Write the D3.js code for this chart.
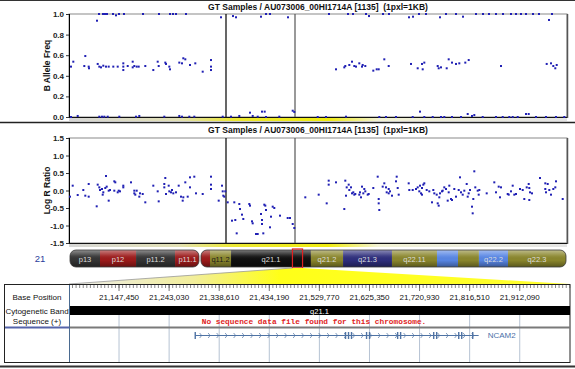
<!DOCTYPE html>
<html>
<head>
<meta charset="utf-8">
<script src="https://cdn.jsdelivr.net/npm/d3@7"></script>
<style>
  body { margin: 0; background: #fff; }
  svg { display: block; font-family: "Liberation Sans", Arial, sans-serif; }
</style>
</head>
<body>
<svg id="chart" width="575" height="369"></svg>
<script>
// ---- data ----
const panelTitle = 'GT Samples / AU073006_00HI1714A [1135]  (1pxl=1KB)';
const windowKb = 498;               // 1 px = 1 kb
const markerKb = [157, 226];        // vertical marker lines in both panels

// B allele frequency: [kb, value]
const bafPoints = [
  [28,0.935],[30,1],[34,1],[36,1],[38,1],[44,1],[47,0.987],[50,1],[55,1],[74,1],[90,1],[101,1],[104,1],[107,1],[117,1],
  [152,0.968],[164,0.98],[167,0.968],[192,0.974],[197,1],[201,1],[219,0.968],
  [260,1],[279,1],[284,1],[297,1],[300,0.98],[314,1],[320,1],[340,0.968],[344,0.974],[350,1],[357,1],[371,0.968],
  [377,1],[387,1],[394,0.974],[407,1],[414,1],[420,1],[427,1],[434,1],[442,1],[447,1],[452,1],[457,1],[464,1],
  [470,1],[480,0.942],[483,1],
  [2,0.489],[4.3,0.537],[16.3,0.592],[15.3,0.495],[19.7,0.489],[20,0.473],[28.7,0.515],[30.3,0.489],[32,0.482],
  [34.3,0.498],[37,0.489],[39.7,0.489],[44.3,0.489],[48.7,0.489],[54.3,0.521],[54.3,0.489],[54.3,0.456],[58.7,0.495],
  [63.7,0.537],[63.7,0.482],[65.3,0.495],[67.7,0.489],[69.7,0.489],[76.3,0.495],[84.3,0.456],[88.7,0.537],[89.7,0.495],
  [96.3,0.528],[97,0.515],[100.3,0.489],[101,0.463],[110.3,0.528],[113,0.521],[114.3,0.57],[116.3,0.56],[121,0.505],
  [126.3,0.521],[133.7,0.44],[142,0.553],[142,0.489],[142,0.456],
  [267,0.463],[275.3,0.482],[276.3,0.495],[280.3,0.505],[283,0.537],[285.3,0.495],[287,0.489],[290.3,0.521],[293,0.489],
  [293.7,0.505],[296.3,0.495],[304.3,0.45],[307.7,0.463],[309.7,0.463],[315.3,0.56],[319.7,0.495],[342,0.515],[348.7,0.473],
  [353,0.515],[353.7,0.463],[355.3,0.528],[368.7,0.495],[369.7,0.473],[372,0.482],[377.7,0.473],[379.7,0.56],[383,0.528],
  [387,0.515],[390.3,0.521],[396.3,0.528],[399.7,0.553],[432,0.495],[477.7,0.515],[482,0.521],[484.3,0.495],[486.3,0.473],
  [487.7,0.505],
  [2,0],[8.7,0.01],[30.3,0.003],[33,0.003],[35.3,0.003],[38.7,0.003],[50.3,0.003],[67,0.003],[70.3,0.01],[95.3,0.003],
  [110.3,0.01],[113,0.003],[120.3,0.003],[125.3,0.003],[153.7,0.003],
  [162,0.003],[170.3,0.01],[181,0.042],[183.7,0.01],[188.7,0.003],[193,0.052],[195.7,0.052],[197,0],[210.3,0.003],
  [223.7,0.061],[225.3,0.049],
  [248.7,0],[257,0],[277,0.003],[310.3,0],[317,0],[327,0],[343.7,0],[351,0.052],[355.3,0],[363.7,0],[372,0],[375.3,0],
  [383,0],[392,0],[398.7,0.029],[403,0.01],[405.3,0.019],[413.7,0],[427,0],[433.7,0],[440.3,0],[443.7,0],[448.7,0],
  [457,0.029],[459.7,0.029],[467,0],[477,0],[487,0],[495.3,0]
];

// Log R ratio: [kb, value]
const lrrPoints = [
  [1,-0.176],[3.7,0.138],[8.7,-0.129],[14.3,0.014],[16.3,-0.148],[19.7,-0.176],[19.7,0.186],[27.7,-0.452],[28.7,0.167],
  [30.3,0.09],[31,0.014],[33,0.043],[33.7,-0.119],[34.3,-0.052],[36.3,0.071],[37,0.414],[37.7,0.11],[39.7,-0.29],
  [39.7,-0.005],[41,0.014],[45.3,-0.005],[45.3,0.262],[46.3,0.233],[48.7,-0.052],[49.7,-0.005],[51,-0.024],[54.3,0.09],
  [54.3,0.138],[62,0.233],[65.3,-0.005],[65.3,-0.081],[66.3,-0.119],[67.7,-0.005],[70.3,-0.176],[71,-0.081],[73.7,-0.1],
  [76.3,-0.338],[84.3,0.138],[88.7,-0.024],[89.7,-0.31],[95.3,0.186],[95.3,0.09],[96.3,0.357],[97,-0.1],[99.7,0.138],
  [100.3,-0.024],[102,-0.052],[103,0.014],[104.3,-0.081],[107,-0.052],[109.7,0.138],[112,-0.176],[113.7,-0.29],
  [114.3,-0.195],[116.3,0.233],[118.7,-0.176],[121,0.376],[121,0.09],[125.3,0.395],[127,-0.081],[133.7,-0.1],[142,0.395],
  [142,0.167],[142,0.043],[149.7,-0.29],[153,0.138],[153.7,-0.024],[154.3,-0.148],[155.3,-0.176],[156.3,-0.024],
  [158.7,-0.338],[163,-0.862],[165.3,-0.338],[166.3,-0.843],[167.7,-1.224],[170.3,-0.386],[171,-0.529],[173,-0.69],
  [174.3,-0.814],[180.3,-0.386],[181,-0.433],[183,-0.881],[183.7,-0.938],[187,-1.243],[188.7,-1.243],[192,-0.671],
  [193,-0.843],[193,-0.957],[194.3,-1.224],[195.3,-0.405],[196.3,-0.433],[197,-0.557],[201,-1.052],[202,-0.748],
  [203.7,-0.462],[205.3,-0.5],[211,-0.719],[218.7,-0.786],[221,-0.786],[223.7,-0.957],[225.3,-1.071],
  [236.3,-0.195],[249.7,-0.119],[257.7,-0.367],[259.7,0.281],[259.7,0.167],[267,0.233],[275.3,-0.529],[276.3,0.281],
  [277,-0.148],[277.7,0.09],[279.7,0.167],[280.3,0.014],[282,0.09],[283,-0.081],[284.3,-0.052],[285.3,-0.119],
  [286.3,-0.1],[290.3,-0.119],[291,-0.052],[292,-0.195],[293,0.11],[294.3,-0.081],[295.3,0.043],[296.3,-0.024],
  [298.7,-0.119],[299.7,-0.1],[304.3,0.071],[308.7,0.395],[309.7,-0.243],[309.7,-0.367],[310.3,-0.557],[313.7,0.11],
  [315.3,0.205],[317,0.09],[317.7,-0.052],[319.7,0.043],[319.7,-0.081],[321,-0.024],[323,-0.148],[327,0.262],
  [327.7,0.395],[328.7,0.071],[329.7,-0.119],[339.7,0.205],[340.3,0.014],[343.7,0.014],[347,0.043],[348.7,0.09],
  [350.3,-0.024],[351,0.138],[352,-0.081],[353,-0.119],[353,0.071],[354.3,0.167],[355.3,0.205],[357.7,0.014],
  [360.3,-0.024],[363,-0.338],[364.3,0.014],[365.3,-0.081],[367.7,-0.119],[368.7,-0.367],[369.7,-0.433],[370.3,-0.195],
  [371,-0.081],[373,-0.024],[373.7,-0.005],[375.3,0.09],[377,0.043],[378.7,-0.29],[379.7,-0.052],[380.3,0.138],
  [382,-0.243],[383,-0.271],[385.3,0.043],[387,-0.176],[389.7,0.014],[391,0.376],[392,-0.052],[393.7,-0.119],
  [395.3,-0.005],[397.7,0.186],[398.7,-0.176],[399.7,-0.081],[401,0.014],[403,-0.462],[403.7,-0.652],[404.3,-0.243],
  [405.3,0.548],[406.3,0.09],[408.7,-0.005],[409.7,-0.119],[410.3,0.014],[417.7,-0.081],[425.3,0.233],[427,-0.052],
  [429.7,0.11],[431,-0.195],[432,0.09],[438.7,-0.1],[439.7,-0.119],[442,-0.024],[443.7,0.138],[445.3,-0.119],
  [447,-0.1],[451,0.043],[453.7,0.014],[455.3,-0.243],[457.7,0.09],[459.7,0.186],[460.3,0.071],[461,-0.052],
  [460.3,-0.271],[463,-0.081],[471,0.357],[476.3,0.205],[476.3,0.043],[477,-0.052],[478.7,0.186],[480.3,0.014],
  [482,-0.119],[484.3,0.043],[486.3,0.09],[487,0.262],[493.7,-0.243]
];

const bafTicks = [0, 0.2, 0.4, 0.6, 0.8, 1.0];
const lrrTicks = [-1.5, -1.0, -0.5, 0, 0.5, 1.0, 1.5];

// chromosome 21 ideogram (Mb)
const chromName = '21';
const chromLengthMb = 46.94;
const centromereMb = 12.3;
const bandNames  = ['p13','p12','p11.2','p11.1','q11.1','q11.2','q21.1','q21.2','q21.3','q22.11','q22.12','q22.13','q22.2','q22.3'];
const bandLabels = ['p13','p12','p11.2','p11.1','','q11.2','q21.1','q21.2','q21.3','q22.11','','','q22.2','q22.3'];
const bandStarts = [0, 2.84, 6.25, 9.94, 12.3, 13.25, 15.24, 22.8, 25.84, 30.47, 34.73, 36.72, 38.7, 41.45];
const bandEnds   = [2.84, 6.25, 9.94, 12.3, 13.25, 15.24, 22.8, 25.84, 30.47, 34.73, 36.72, 38.7, 41.45, 46.94];
const bandStains = ['gpos75','acen','gpos75','acen','acen','gpos50','gpos100','gpos50','gpos100n','gpos50','gpos25','gpos50','gpos25','gpos50'];

// zoomed region (bp)
const regionStart = 21052000;
const regionEnd = 22008000;
const basePositions = [21147450, 21243030, 21338610, 21434190, 21529770, 21625350, 21720930, 21816510, 21912090];
const regionBand = 'q21.1';
const sequenceMessage = 'No sequence data file found for this chromosome.';
const geneName = 'NCAM2';
const geneStart = 21292700;
const geneEnd = 21833700;
const geneExons = [21292700, 21579500, 21585200, 21590900, 21619600, 21625300, 21678900, 21684600,
                   21747700, 21753400, 21795500, 21801200, 21822200];

// ---- drawing ----
const svg = d3.select('#chart');
const defs = svg.append('defs');

const addGradient = (id, stops, horizontal, x1, x2) => {
  const g = defs.append('linearGradient').attr('id', id);
  if (horizontal) {
    g.attr('gradientUnits', 'userSpaceOnUse').attr('x1', x1).attr('x2', x2).attr('y1', 0).attr('y2', 0);
  } else {
    g.attr('x1', 0).attr('x2', 0).attr('y1', 0).attr('y2', 1);
  }
  stops.forEach(s => g.append('stop').attr('offset', s[0]).attr('stop-color', s[1]).attr('stop-opacity', s[2] ?? 1));
};

addGradient('strip', [[0,'#d6d6d6'],[0.22,'#e2e0b4'],[0.33,'#ece834'],[0.52,'#f0ec10'],[0.62,'#f2f2d4'],[1,'#e4e4e4']], true, 69, 567);
addGradient('wedge', [[0,'#ececec'],[0.25,'#f2ee9a'],[0.42,'#ffff18'],[1,'#ffff30']], true, 69, 570);
addGradient('gloss', [[0,'#ffffff',0.45],[0.35,'#ffffff',0.08],[0.6,'#000000',0],[1,'#000000',0.35]], false);

// outer top/bottom rules
svg.append('line').attr('x1', 0).attr('x2', 575).attr('y1', 0.5).attr('y2', 0.5).attr('stroke', '#333');
svg.append('line').attr('x1', 0).attr('x2', 575).attr('y1', 122.5).attr('y2', 122.5).attr('stroke', '#222').attr('stroke-width', 1.5);
svg.append('line').attr('x1', 0).attr('x2', 575).attr('y1', 366.5).attr('y2', 366.5).attr('stroke', '#333').attr('stroke-width', 2);

const x = d3.scaleLinear().domain([0, windowKb]).range([69, 567]);

const drawPanel = (top, bottom, domain, ticks, label, points, titleY) => {
  const y = d3.scaleLinear().domain(domain).range([bottom, top]);
  const g = svg.append('g');

  g.append('text')
    .attr('x', (69 + 567) / 2).attr('y', titleY)
    .attr('text-anchor', 'middle')
    .style('font-size', '8.5px').style('font-weight', 'bold').style('white-space', 'pre')
    .attr('fill', '#111')
    .text(panelTitle);

  g.append('rect')
    .attr('x', 69).attr('y', top).attr('width', 498).attr('height', bottom - top)
    .attr('fill', '#fff').attr('stroke', '#8a8a8a');
  g.append('line').attr('x1', 567.5).attr('x2', 567.5).attr('y1', top).attr('y2', bottom + 1)
    .attr('stroke', '#555').attr('stroke-width', 1.5);

  g.append('rect')
    .attr('x', 69).attr('y', bottom + 1).attr('width', 498).attr('height', 3)
    .attr('fill', 'url(#strip)');

  const axis = d3.axisLeft(y).tickValues(ticks).tickFormat(d => d.toFixed(1)).tickSize(3).tickPadding(2);
  const ag = g.append('g').attr('transform', 'translate(69,0)').call(axis);
  ag.select('.domain').remove();
  ag.selectAll('line').attr('stroke', '#333');
  ag.selectAll('text').style('font-size', '8px').style('font-weight', 'bold').attr('fill', '#222');

  g.append('line').attr('x1', 69.5).attr('x2', 69.5).attr('y1', top).attr('y2', bottom + 0.5).attr('stroke', '#000');
  g.append('line').attr('x1', 69).attr('x2', 567).attr('y1', bottom + 0.5).attr('y2', bottom + 0.5).attr('stroke', '#111');

  markerKb.forEach((m, i) => {
    g.append('line')
      .attr('x1', x(m)).attr('x2', x(m)).attr('y1', top).attr('y2', bottom)
      .attr('stroke', i === 0 ? '#000' : '#555').attr('stroke-width', 1.2);
  });

  g.append('g').selectAll('rect')
    .data(points)
    .join('rect')
    .attr('x', d => x(d[0]) - 1)
    .attr('y', d => y(d[1]) - 1)
    .attr('width', 2).attr('height', 2)
    .attr('fill', '#2020b4');

  g.append('text')
    .attr('transform', `translate(50,${(top + bottom) / 2}) rotate(-90)`)
    .attr('text-anchor', 'middle')
    .style('font-size', '8.5px').style('font-weight', 'bold')
    .attr('fill', '#111')
    .text(label);
};

drawPanel(14, 117, [0, 1], bafTicks, 'B Allele Freq', bafPoints, 10);
drawPanel(138, 243, [-1.5, 1.5], lrrTicks, 'Log R Ratio', lrrPoints, 133);

// ---- ideogram ----
const xi = d3.scaleLinear().domain([0, chromLengthMb]).range([70, 566]);
const ideoTop = 250, ideoH = 17;
const stainColor = {
  gpos100: '#101010', gpos75: '#343434', acen: '#9c1a1a', gpos50: '#8a862c',
  gpos100n: '#2e2e7c', gpos25: '#5886e4'
};
const arms = [
  { id: 'armP', x0: xi(0), x1: xi(centromereMb) - 1 },
  { id: 'armQ', x0: xi(centromereMb) + 1, x1: xi(chromLengthMb) }
];
arms.forEach(a => {
  defs.append('clipPath').attr('id', a.id).append('rect')
    .attr('x', a.x0).attr('y', ideoTop).attr('width', a.x1 - a.x0).attr('height', ideoH)
    .attr('rx', 6).attr('ry', 6);
});

const bands = bandNames.map((name, i) => ({
  name, label: bandLabels[i], start: bandStarts[i], end: bandEnds[i], stain: bandStains[i]
}));

const ideo = svg.append('g');
ideo.append('text')
  .attr('x', 40).attr('y', ideoTop + 12).attr('text-anchor', 'middle')
  .style('font-size', '9.5px').attr('fill', '#2b3d9c')
  .text(chromName);

arms.forEach(a => {
  const ag = ideo.append('g').attr('clip-path', `url(#${a.id})`);
  ag.selectAll('rect.band')
    .data(bands.filter(b => (a.id === 'armP') === (b.start < centromereMb)))
    .join('rect')
    .attr('class', 'band')
    .attr('x', d => xi(d.start)).attr('y', ideoTop)
    .attr('width', d => xi(d.end) - xi(d.start)).attr('height', ideoH)
    .attr('fill', d => stainColor[d.stain]);
  ag.append('rect')
    .attr('x', a.x0).attr('y', ideoTop).attr('width', a.x1 - a.x0).attr('height', ideoH)
    .attr('fill', 'url(#gloss)');
  ideo.append('rect')
    .attr('x', a.x0).attr('y', ideoTop).attr('width', a.x1 - a.x0).attr('height', ideoH)
    .attr('rx', 6).attr('ry', 6)
    .attr('fill', 'none').attr('stroke', '#3a3a3a').attr('stroke-width', 0.8);
});

ideo.selectAll('text.bandlabel')
  .data(bands.filter(b => b.label))
  .join('text')
  .attr('class', 'bandlabel')
  .attr('x', d => (xi(d.start) + xi(d.end)) / 2)
  .attr('y', ideoTop + 11.5)
  .attr('text-anchor', 'middle')
  .style('font-size', '7.5px')
  .attr('fill', d => d.name === 'q11.2' ? '#1a1a1a' : '#dcdcdc')
  .text(d => d.label);

// zoom wedge from the selected region down to the detail table
const selX0 = xi(regionStart / 1e6), selX1 = xi(regionEnd / 1e6);
svg.append('polygon')
  .attr('points', [[selX0, ideoTop + ideoH + 1], [selX1, ideoTop + ideoH + 1], [570, 284], [69, 284]].map(p => p.join(',')).join(' '))
  .attr('fill', 'url(#wedge)');
svg.append('line')
  .attr('x1', selX0).attr('y1', ideoTop + ideoH + 1).attr('x2', 69).attr('y2', 284)
  .attr('stroke', '#999').attr('stroke-width', 0.8);

ideo.append('rect')
  .attr('x', selX0).attr('y', ideoTop - 1).attr('width', selX1 - selX0).attr('height', ideoH + 2)
  .attr('fill', 'none').attr('stroke', '#e02020').attr('stroke-width', 1.2);

// ---- detail table ----
const xt = d3.scaleLinear().domain([regionStart, regionEnd]).range([69, 570]);
const table = svg.append('g');
const tTop = 284, tBottom = 362;

table.append('rect')
  .attr('x', 4.5).attr('y', tTop + 0.5).attr('width', 565.5).attr('height', tBottom - tTop)
  .attr('fill', '#fff').attr('stroke', '#222');

// grid lines under sequence + gene rows
table.selectAll('line.grid')
  .data(basePositions)
  .join('line')
  .attr('class', 'grid')
  .attr('x1', d => xt(d)).attr('x2', d => xt(d))
  .attr('y1', 315).attr('y2', tBottom)
  .attr('stroke', '#b6c3d3');

// ruler ticks
const majorStep = basePositions[1] - basePositions[0];
const minorTicks = d3.range(basePositions[0] - majorStep, regionEnd, majorStep / 14).filter(d => d >= regionStart + 3000);
table.selectAll('line.minor')
  .data(minorTicks)
  .join('line')
  .attr('class', 'minor')
  .attr('x1', d => xt(d)).attr('x2', d => xt(d))
  .attr('y1', tTop + 1).attr('y2', tTop + 4)
  .attr('stroke', '#555').attr('stroke-width', 0.7);
table.selectAll('line.major')
  .data(basePositions)
  .join('line')
  .attr('class', 'major')
  .attr('x1', d => xt(d)).attr('x2', d => xt(d))
  .attr('y1', tTop + 1).attr('y2', tTop + 7)
  .attr('stroke', '#555').attr('stroke-width', 0.8);

table.selectAll('text.pos')
  .data(basePositions)
  .join('text')
  .attr('class', 'pos')
  .attr('x', d => xt(d)).attr('y', 300)
  .attr('text-anchor', 'middle')
  .style('font-size', '8px').attr('fill', '#111')
  .text(d3.format(','));

// cytogenetic band row
table.append('rect')
  .attr('x', xt(regionStart)).attr('y', 306)
  .attr('width', xt(regionEnd) - xt(regionStart)).attr('height', 9)
  .attr('fill', '#000');
table.append('text')
  .attr('x', (xt(regionStart) + xt(regionEnd)) / 2).attr('y', 313.5)
  .attr('text-anchor', 'middle')
  .style('font-size', '7.5px').attr('fill', '#fff')
  .text(regionBand);

// sequence row
table.append('text')
  .attr('x', 314).attr('y', 324)
  .attr('text-anchor', 'middle')
  .style('font-family', '"Liberation Mono", "Courier New", monospace')
  .style('font-size', '7.8px').style('font-weight', 'bold')
  .attr('fill', '#e02424')
  .text(sequenceMessage);

table.append('line').attr('x1', 69).attr('x2', 570).attr('y1', 327.5).attr('y2', 327.5)
  .attr('stroke', '#7a7a7a').attr('stroke-width', 2);
table.append('line').attr('x1', 5).attr('x2', 69).attr('y1', 327.5).attr('y2', 327.5)
  .attr('stroke', '#5564aa').attr('stroke-width', 2);

// left labels
const rowLabels = [['Base Position', 300], ['Cytogenetic Band', 313.5], ['Sequence (+)', 324]];
table.selectAll('text.rowlabel')
  .data(rowLabels)
  .join('text')
  .attr('class', 'rowlabel')
  .attr('x', 37).attr('y', d => d[1])
  .attr('text-anchor', 'middle')
  .style('font-size', '8px').attr('fill', '#111')
  .text(d => d[0]);

table.append('line').attr('x1', 69.5).attr('x2', 69.5).attr('y1', tTop + 1).attr('y2', tBottom)
  .attr('stroke', '#4a6a90');

// gene track
const geneY = 335;
const geneColor = '#4f73a4';
table.append('line')
  .attr('x1', xt(geneStart)).attr('x2', xt(geneEnd))
  .attr('y1', geneY + 0.5).attr('y2', geneY + 0.5)
  .attr('stroke', geneColor);
const chevrons = d3.range(xt(geneStart) + 6, xt(geneEnd) - 2, 8.5);
table.selectAll('path.chev')
  .data(chevrons)
  .join('path')
  .attr('class', 'chev')
  .attr('d', d => `M${d - 1.5},${geneY - 2} L${d + 0.5},${geneY + 0.5} L${d - 1.5},${geneY + 3}`)
  .attr('fill', 'none').attr('stroke', geneColor).attr('stroke-width', 0.7);
table.selectAll('rect.exon')
  .data(geneExons)
  .join('rect')
  .attr('class', 'exon')
  .attr('x', d => xt(d) - 0.6).attr('y', geneY - 3)
  .attr('width', 1.4).attr('height', 7)
  .attr('fill', geneColor);
table.append('text')
  .attr('x', xt(geneEnd) + 9).attr('y', geneY + 3)
  .style('font-size', '8px').attr('fill', '#4a70a8')
  .text(geneName);
</script>
</body>
</html>
